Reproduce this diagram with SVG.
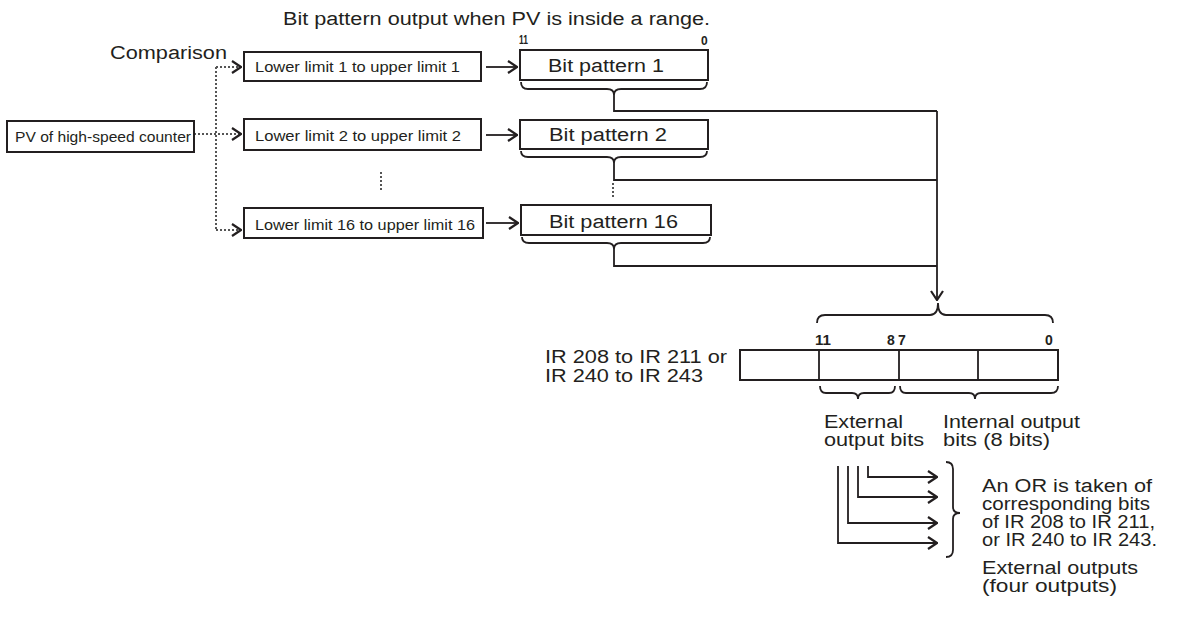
<svg xmlns="http://www.w3.org/2000/svg" width="1179" height="619" viewBox="0 0 1179 619">
<style>
text{font-family:"Liberation Sans",Arial,Helvetica,sans-serif;fill:#231f20}
.big{font-size:18px}
.sm{font-size:15px}
.num{font-size:12px;font-weight:bold}
.rn{font-size:14px;font-weight:bold}
.box{fill:#fff;stroke:#231f20;stroke-width:2}
.ln{fill:none;stroke:#231f20;stroke-width:1.8}
.br{fill:none;stroke:#231f20;stroke-width:1.8}
.dot{fill:none;stroke:#555;stroke-width:2;stroke-dasharray:2 2}
</style>
<defs>
<marker id="chev" viewBox="0 0 11 14" refX="10" refY="7" markerWidth="11" markerHeight="14" markerUnits="userSpaceOnUse" orient="auto">
<path d="M1,1 L10,7 L1,13" fill="none" stroke="#231f20" stroke-width="2.2"/>
</marker>
</defs>
<rect width="1179" height="619" fill="#fff"/>

<text id="title" class="big" x="283" y="25" textLength="427" lengthAdjust="spacingAndGlyphs">Bit pattern output when PV is inside a range.</text>
<text id="comparison" class="big" x="110" y="59" textLength="117" lengthAdjust="spacingAndGlyphs">Comparison</text>

<g id="connectors">
<path class="dot" d="M194,134 L241,134" marker-end="url(#chev)"/>
<path class="dot" d="M216,67 L216,230"/>
<path class="dot" d="M216,67 L241,67" marker-end="url(#chev)"/>
<path class="dot" d="M216,230 L241,230" marker-end="url(#chev)"/>
<path class="dot" d="M381,172 L381,190"/>
<path class="ln" d="M486,67 L517,67" marker-end="url(#chev)"/>
<path class="ln" d="M486,135 L517,135" marker-end="url(#chev)"/>
<path class="ln" d="M486,223 L518,223" marker-end="url(#chev)"/>
<path class="ln" d="M614,95 L614,111 L937,111"/>
<path class="ln" d="M614,163 L614,180 L937,180"/>
<path class="dot" d="M613,183 L613,197"/>
<path class="ln" d="M614,249 L614,266 L937,266"/>
<path class="ln" d="M937,111 L937,300" marker-end="url(#chev)"/>
<path class="ln" d="M868,466 L868,477 L937,477" marker-end="url(#chev)"/>
<path class="ln" d="M858,466 L858,497 L937,497" marker-end="url(#chev)"/>
<path class="ln" d="M848,466 L848,523 L937,523" marker-end="url(#chev)"/>
<path class="ln" d="M838,466 L838,543 L937,543" marker-end="url(#chev)"/>
</g>

<g id="pv">
<rect class="box" x="7" y="121" width="187" height="31"/>
<text class="sm" x="15" y="142" textLength="176" lengthAdjust="spacingAndGlyphs">PV of high-speed counter</text>
</g>

<g id="range1">
<rect class="box" x="244" y="52" width="237" height="29"/>
<text class="sm" x="255" y="72" textLength="205" lengthAdjust="spacingAndGlyphs">Lower limit 1 to upper limit 1</text>
</g>
<g id="range2">
<rect class="box" x="244" y="119" width="237" height="31"/>
<text class="sm" x="255" y="141" textLength="206" lengthAdjust="spacingAndGlyphs">Lower limit 2 to upper limit 2</text>
</g>
<g id="range16">
<rect class="box" x="244" y="208" width="239" height="30"/>
<text class="sm" x="255" y="230" textLength="220" lengthAdjust="spacingAndGlyphs">Lower limit 16 to upper limit 16</text>
</g>

<g id="pattern1">
<text class="num" x="519" y="44" textLength="9" lengthAdjust="spacingAndGlyphs">11</text>
<text class="num" x="701" y="45">0</text>
<rect class="box" x="520" y="50" width="188" height="30"/>
<text class="big" x="548" y="72" textLength="116" lengthAdjust="spacingAndGlyphs">Bit pattern 1</text>
<path class="br" d="M521,82 Q521,89 528,89 L607,89 Q614,89 614,95 Q614,89 621,89 L700,89 Q707,89 707,82"/>
</g>
<g id="pattern2">
<rect class="box" x="520" y="120" width="188" height="29"/>
<text class="big" x="549" y="141" textLength="118" lengthAdjust="spacingAndGlyphs">Bit pattern 2</text>
<path class="br" d="M521,151 Q521,157 528,157 L607,157 Q614,157 614,163 Q614,157 621,157 L700,157 Q707,157 707,151"/>
</g>
<g id="pattern16">
<rect class="box" x="521" y="205" width="190" height="30"/>
<text class="big" x="549" y="228" textLength="129" lengthAdjust="spacingAndGlyphs">Bit pattern 16</text>
<path class="br" d="M522,237 Q522,243 529,243 L607,243 Q614,243 614,249 Q614,243 621,243 L703,243 Q710,243 710,237"/>
</g>

<g id="register">
<path class="br" d="M817,323 Q817,315 825,315 L930,315 Q938,315 938,303 Q938,315 946,315 L1045,315 Q1053,315 1053,323"/>
<text class="rn" x="815" y="345" textLength="16" lengthAdjust="spacingAndGlyphs">11</text>
<text class="rn" x="887" y="345">8</text>
<text class="rn" x="898" y="345">7</text>
<text class="rn" x="1045" y="345">0</text>
<text class="big" x="545" y="363" textLength="182" lengthAdjust="spacingAndGlyphs">IR 208 to IR 211 or</text>
<text class="big" x="545" y="382" textLength="158" lengthAdjust="spacingAndGlyphs">IR 240 to IR 243</text>
<rect class="box" x="740" y="350" width="318" height="30"/>
<path class="ln" d="M819,350 L819,380 M899,350 L899,380 M978,350 L978,380"/>
<path class="br" d="M820,386 Q820,393 826,393 L852,393 Q858,393 858,399 Q858,393 864,393 L889,393 Q895,393 895,386"/>
<path class="br" d="M900,386 Q900,393 906,393 L969,393 Q975,393 975,399 Q975,393 981,393 L1051,393 Q1058,393 1058,386"/>
</g>

<g id="external-label">
<text class="big" x="824" y="428" textLength="79" lengthAdjust="spacingAndGlyphs">External</text>
<text class="big" x="824" y="446" textLength="100" lengthAdjust="spacingAndGlyphs">output bits</text>
</g>
<g id="internal-label">
<text class="big" x="943" y="428" textLength="137" lengthAdjust="spacingAndGlyphs">Internal output</text>
<text class="big" x="943" y="446" textLength="107" lengthAdjust="spacingAndGlyphs">bits (8 bits)</text>
</g>

<g id="or-note">
<path class="br" d="M946,462 Q953,462 953,469 L953,507 Q953,513 960,513 Q953,513 953,519 L953,550 Q953,557 946,557"/>
<text class="big" x="982" y="492" textLength="170" lengthAdjust="spacingAndGlyphs">An OR is taken of</text>
<text class="big" x="982" y="510" textLength="168" lengthAdjust="spacingAndGlyphs">corresponding bits</text>
<text class="big" x="982" y="528" textLength="173" lengthAdjust="spacingAndGlyphs">of IR 208 to IR 211,</text>
<text class="big" x="982" y="546" textLength="175" lengthAdjust="spacingAndGlyphs">or IR 240 to IR 243.</text>
<text class="big" x="982" y="574" textLength="156" lengthAdjust="spacingAndGlyphs">External outputs</text>
<text class="big" x="982" y="592" textLength="135" lengthAdjust="spacingAndGlyphs">(four outputs)</text>
</g>
</svg>
